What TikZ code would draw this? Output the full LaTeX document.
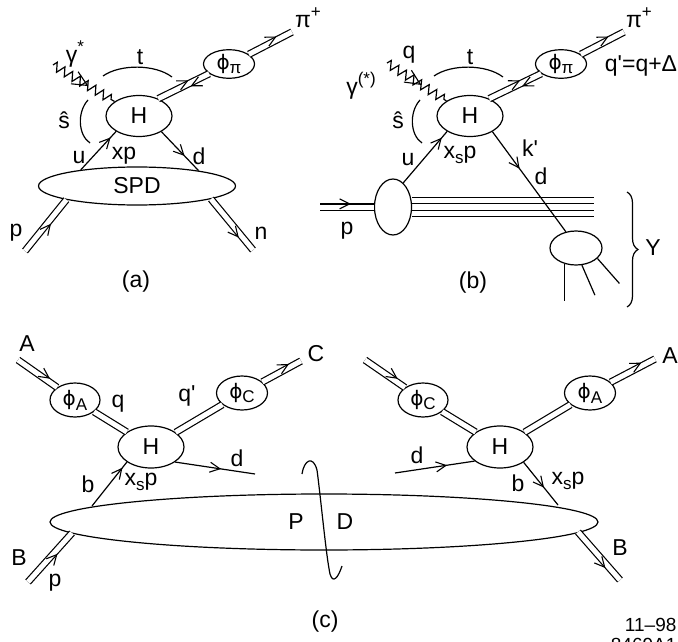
\documentclass[tikz,border=0pt]{standalone}
\usepackage{fontspec}
\setmainfont{Liberation Sans}[Ligatures=TeXOff]
\newfontfamily\gf{DejaVu Sans}
\usetikzlibrary{shapes.geometric,decorations.pathmorphing,decorations.markings,decorations.pathreplacing}
\newcommand\phisym{{\gf\fontsize{20}{20}\selectfont ϕ}}
\newcommand\mysub[1]{\raisebox{-0.4ex}{\fontsize{17}{17}\selectfont #1}}
\newcommand\mysup[1]{\raisebox{0.85ex}{\fontsize{17}{17}\selectfont #1}}
\tikzset{
 fwdarr/.style 2 args={postaction={decorate,decoration={markings,mark=at position #1 with {\draw[line width=1.1pt] (-10pt,#2+5pt) -- (0pt,#2) -- (-10pt,#2-5pt);}}}},
 bckarr/.style 2 args={postaction={decorate,decoration={markings,mark=at position #1 with {\draw[line width=1.1pt] (10pt,#2+5pt) -- (0pt,#2) -- (10pt,#2-5pt);}}}},
 phoarr/.style={postaction={decorate,decoration={markings,mark=at position #1 with {\draw[line width=1.1pt] (-15pt,7pt) -- (0pt,0pt) -- (-15pt,-7pt);}}}},
}
\begin{document}
\begin{tikzpicture}[x=1pt,y=-1pt,line width=1.2pt,
 every node/.style={font=\fontsize{23}{27}\selectfont,inner sep=0pt},
 blob/.style={draw,ellipse,inner sep=0pt},
 dbl/.style={double,double distance=5pt},
 zz/.style={decorate,decoration={zigzag,segment length=9pt,amplitude=4.5pt}}]
\useasboundingbox (0,0) rectangle (678,642);
% ---------------- panel (a)
\node[blob,minimum width=66pt,minimum height=41pt] (Ha) at (139,116) {H};
\node[blob,minimum width=51pt,minimum height=26pt] (Fa) at (229,64) {\phisym\mysub{π}};
\node[blob,minimum width=197pt,minimum height=38pt] (SPD) at (137,186) {SPD};
\coordinate (PIa) at (292,32);
\coordinate (Ga) at (53,65);
\coordinate (Pa) at (25,251);
\coordinate (Na) at (253,250);
\draw[dbl] (Ha.42) -- (Fa.206);
\path[fwdarr={0.6}{3.1pt}] (Ha.42) -- (Fa.206);
\path[bckarr={0.63}{-3.1pt}] (Ha.42) -- (Fa.206);
\draw[dbl] (Fa.26) -- (PIa);
\path[fwdarr={0.65}{3.1pt}] (Fa.26) -- (PIa);
\draw[zz] (Ga) -- (Ha);
\path[phoarr=0.56] (Ga) -- (Ha);
\draw[fwdarr={0.82}{0pt}] (SPD.164) -- (Ha.214);
\draw[fwdarr={0.6}{0pt}] (Ha.325) -- (SPD.14);
\draw[dbl] (Pa) -- (SPD.191);
\path[fwdarr={0.55}{-3.1pt}] (Pa) -- (SPD.191);
\draw[dbl] (SPD.350) -- (Na);
\path[fwdarr={0.7}{-3.1pt}] (SPD.350) -- (Na);
\draw (103,76) .. controls (120,64) and (155,64) .. (172,77);
\draw (88,100) .. controls (77,112) and (78,135) .. (90,143);
\node (la1) at (308,18) {π\mysup{+}};
\node (la2) at (75,54) {γ\mysup{*}};
\node (la3) at (140,57) {t};
\node (la4) at (64,120) {ŝ};
\node (la5) at (79,158) {u};
\node (la6) at (124,156) {xp};
\node (la7) at (199,156) {d};
\node (la8) at (16,233) {p};
\node (la9) at (261,233) {n};
\node (la10) at (136,282) {(a)};
% ---------------- panel (b)
\node[blob,minimum width=66pt,minimum height=41pt] (Hb) at (470,116) {H};
\node[blob,minimum width=51pt,minimum height=26pt] (Fb) at (561,64) {\phisym\mysub{π}};
\node[blob,minimum width=37pt,minimum height=56pt] (Pb) at (393,207) {};
\node[blob,minimum width=52pt,minimum height=34pt] (Xb) at (576,248) {};
\coordinate (PIb) at (624,32);
\coordinate (Gb) at (387,63);
\coordinate (Pin) at (320,207);
\draw[dbl] (Hb.42) -- (Fb.206);
\path[fwdarr={0.6}{3.1pt}] (Hb.42) -- (Fb.206);
\path[bckarr={0.63}{-3.1pt}] (Hb.42) -- (Fb.206);
\draw[dbl] (Fb.26) -- (PIb);
\path[fwdarr={0.65}{3.1pt}] (Fb.26) -- (PIb);
\draw[zz] (Gb) -- (Hb);
\path[phoarr=0.56] (Gb) -- (Hb);
\draw[fwdarr={0.86}{0pt}] (Pb.67) -- (Hb.214);
\draw[fwdarr={0.36}{0pt}] (Hb.325) -- (Xb.122);
\draw[dbl] (Pin) -- (Pb);
\path[fwdarr={0.55}{3.1pt}] (Pin) -- (Pb);
\foreach \dy in {9.5,3.2,-3.2,-9.5} \draw ([yshift=\dy pt]Pb.east) -- ++(182,0);
\draw (Xb.234) -- ++(0,37);
\draw (Xb.289) -- ++(13,30);
\draw (Xb.334) -- ++(22,25);
\draw (434,76) .. controls (451,64) and (486,64) .. (503,77);
\draw (420,100) .. controls (409,112) and (410,135) .. (422,143);
\draw[decorate,decoration={brace,amplitude=11pt}] (627,192) -- (627,307);
\node (lb1) at (639,18) {π\mysup{+}};
\node (lb2) at (641,66) {q'=q+Δ};
\node (lb3) at (361,86) {γ\mysup{(*)}};
\node (lb4) at (409,55) {q};
\node (lb5) at (470,57) {t};
\node (lb6) at (398,120) {ŝ};
\node (lb7) at (408,160) {u};
\node (lb8) at (460,155) {x\mysub{s}p};
\node (lb9) at (530,148) {k'};
\node (lb10) at (541,176) {d};
\node (lb11) at (347,231) {p};
\node (lb12) at (653,248) {Y};
\node (lb13) at (473,283) {(b)};
% ---------------- panel (c)
\node[blob,minimum width=548pt,minimum height=56pt] (PD) at (324,522) {};
\node[blob,minimum width=50pt,minimum height=34pt] (FAl) at (75,400) {\phisym\mysub{A}};
\node[blob,minimum width=66pt,minimum height=42pt] (Hcl) at (151,447) {H};
\node[blob,minimum width=51pt,minimum height=34pt] (FCl) at (242,393) {\phisym\mysub{C}};
\coordinate (Al) at (18,360);
\coordinate (Cl) at (301,361);
\coordinate (dl) at (255,474);
\coordinate (bl) at (92,506);
\coordinate (Blin) at (72,533);
\coordinate (Bl) at (28,582);
\draw[dbl] (Al) -- (FAl);
\path[fwdarr={0.75}{3.1pt}] (Al) -- (FAl);
\draw[dbl] (FAl) -- (Hcl);
\draw[dbl] (Hcl) -- (FCl);
\draw[dbl] (FCl) -- (Cl);
\path[fwdarr={0.7}{3.1pt}] (FCl) -- (Cl);
\draw[fwdarr={0.56}{0pt}] (Hcl.328) -- (dl);
\draw[fwdarr={0.85}{0pt}] (bl) -- (Hcl.212);
\draw[dbl] (Bl) -- (Blin);
\path[fwdarr={0.6}{-3.1pt}] (Bl) -- (Blin);
\node[blob,minimum width=50pt,minimum height=34pt] (FCr) at (423,400) {\phisym\mysub{C}};
\node[blob,minimum width=66pt,minimum height=42pt] (Hcr) at (500,447) {H};
\node[blob,minimum width=51pt,minimum height=34pt] (FAr) at (590,393) {\phisym\mysub{A}};
\coordinate (Cr) at (365,360);
\coordinate (Ar) at (655,359);
\coordinate (dr) at (395,473);
\coordinate (br) at (558,505);
\coordinate (Brin) at (578,532);
\coordinate (Br) at (620,580);
\draw[dbl] (Cr) -- (FCr);
\path[fwdarr={0.75}{3.1pt}] (Cr) -- (FCr);
\draw[dbl] (FCr) -- (Hcr);
\draw[dbl] (Hcr) -- (FAr);
\draw[dbl] (FAr) -- (Ar);
\path[fwdarr={0.7}{3.1pt}] (FAr) -- (Ar);
\draw[fwdarr={0.64}{0pt}] (dr) -- (Hcr.209);
\draw[fwdarr={0.57}{0pt}] (Hcr.327) -- (br);
\draw[dbl] (Brin) -- (Br);
\path[fwdarr={0.69}{-3.1pt}] (Brin) -- (Br);
\draw (302,474) .. controls (304,460) and (313,455) .. (317,470) .. controls (321,500) and (326,555) .. (330,574) .. controls (333,584) and (338,578) .. (342,566);
\node (lc1) at (27,344) {A};
\node (lc2) at (118,404) {q};
\node (lc3) at (187,396) {q'};
\node (lc4) at (316,354) {C};
\node (lc5) at (237,458) {d};
\node (lc6) at (88,484) {b};
\node (lc7) at (141,482) {x\mysub{s}p};
\node (lc8) at (296,522) {P};
\node (lc9) at (345,522) {D};
\node (lc10) at (19,558) {B};
\node (lc11) at (55,583) {p};
\node (lc12) at (670,356) {A};
\node (lc13) at (417,455) {d};
\node (lc14) at (518,483) {b};
\node (lc15) at (568,481) {x\mysub{s}p};
\node (lc16) at (620,548) {B};
\node (lc17) at (325,622) {(c)};
\node[anchor=east,font=\fontsize{19}{22}\selectfont] (id1) at (677,625) {11–98};
\node[anchor=east,font=\fontsize{19}{22}\selectfont] (id2) at (677,645) {8469A1};
\end{tikzpicture}
\end{document}
